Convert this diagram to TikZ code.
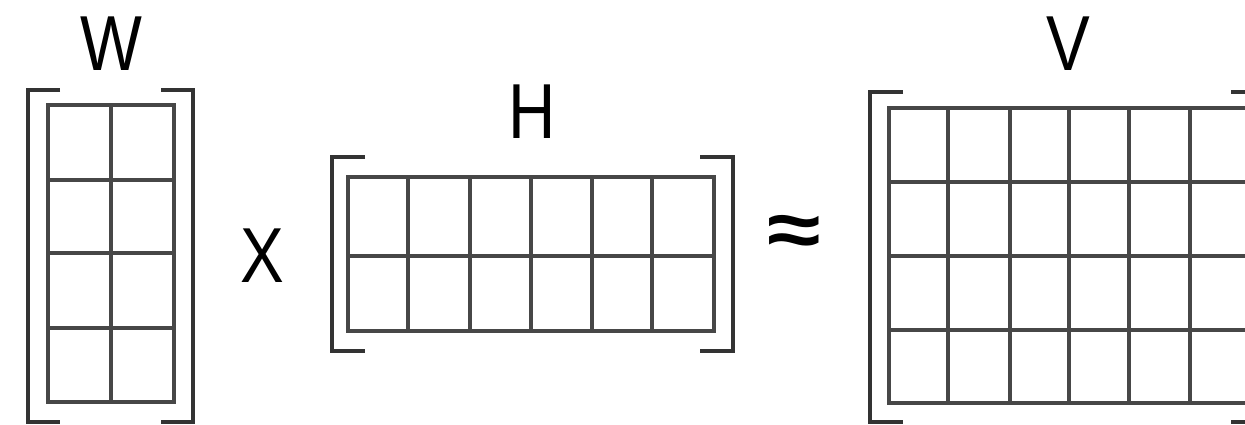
\documentclass[tikz,border=0pt]{standalone}
\usepackage{fontspec}
\setmainfont{Liberation Sans}
\begin{document}
\begin{tikzpicture}[x=1pt,y=-1pt,
  gridline/.style={draw=black!72,line width=3.4pt,line cap=rect},
  brack/.style={draw=black!80,line width=3.4pt},
  lbl/.style={font=\fontsize{78}{80}\selectfont,inner sep=0pt,anchor=base,xscale=0.84}]
\useasboundingbox (0,0) rectangle (1245,424);
\clip (0,0) rectangle (1245,424);
% ---- W (4x2)
\foreach \y in {105,180,253,328,402} \draw[gridline] (48,\y) -- (174,\y);
\foreach \x in {48,111,174} \draw[gridline] (\x,105) -- (\x,402);
\draw[brack] (60,90) -- (28,90) -- (28,422) -- (60,422);
\draw[brack] (161,90) -- (193,90) -- (193,422) -- (161,422);
\node[lbl] (W) at (111,70) {W};
% ---- X
\node[lbl] (times) at (262,282) {X};
% ---- H (2x6)
\foreach \y in {177,256,331} \draw[gridline] (348,\y) -- (714,\y);
\foreach \x in {348,408,470,531,592,652,714} \draw[gridline] (\x,177) -- (\x,331);
\draw[brack] (365,157) -- (332,157) -- (332,351) -- (365,351);
\draw[brack] (700,157) -- (733,157) -- (733,351) -- (700,351);
\node[lbl] (H) at (532,138) {H};
% ---- approx
\node[font=\fontsize{78}{80}\selectfont\bfseries,inner sep=0pt,xscale=1.25] (approx) at (794,236) {≈};
% ---- V (4x6, cut at right)
\foreach \y in {108,182,256,330,403} \draw[gridline] (889,\y) -- (1252,\y);
\foreach \x in {889,948,1010,1069,1129,1190,1252} \draw[gridline] (\x,108) -- (\x,403);
\draw[brack] (903,92) -- (870,92) -- (870,422) -- (903,422);
\draw[brack] (1231,92) -- (1264,92) -- (1264,422) -- (1231,422);
\node[lbl] (V) at (1068,70) {V};
\end{tikzpicture}
\end{document}
